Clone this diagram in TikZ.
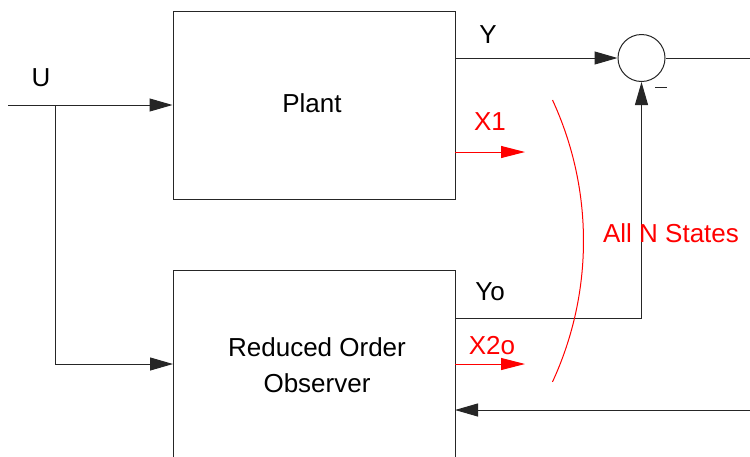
\documentclass[tikz,border=0pt]{standalone}
\usepackage{fontspec}
\setmainfont{Liberation Sans}
\usetikzlibrary{arrows.meta}
\begin{document}
\begin{tikzpicture}[x=1pt,y=-1pt,
  font=\fontsize{26}{36}\selectfont,
  ln/.style={draw=black!85,line width=1pt},
  arr/.style={ln,-{Triangle[length=23pt,width=13pt]}},
  rarr/.style={draw=red,line width=1pt,-{Triangle[length=24pt,width=12pt]}},
  blk/.style={ln,rectangle,minimum width=282pt,inner sep=0pt},
  lbl/.style={inner sep=0pt,anchor=center},
  rlbl/.style={lbl,text=red}]
\clip (0,0) rectangle (750,456);
\fill[white] (0,0) rectangle (750,456);
% blocks
\node[blk,minimum height=188pt] (plant) at (314,105) {};
\node[lbl] (plantt) at (312,103) {Plant};
\node[blk,minimum height=200pt] (obs) at (314,370) {};
\node[lbl,align=center] (obst) at (317,365) {Reduced Order\\Observer};
\node[ln,circle,minimum size=47pt,inner sep=0pt] (sum) at (641.5,58) {};
% coordinates
\coordinate (uin) at (8,105);
\coordinate (ub) at (55,105);
\coordinate (obsin) at (173,364);
\coordinate (yout) at (455,58);
\coordinate (yoout) at (455,318);
\coordinate (x1s) at (455,152);
\coordinate (x1e) at (525,152);
\coordinate (x2s) at (455,364);
\coordinate (x2e) at (525,364);
\coordinate (outend) at (750,58);
\coordinate (fbs) at (750,410);
\coordinate (fbe) at (455,410);
% connectors
\draw[arr] (uin) -- (plant.west);
\draw[arr] (ub) |- (obsin);
\draw[arr] (yout) -- (sum.west);
\draw[arr] (yoout) -| (sum.south);
\draw[ln] (sum.east) -- (outend);
\draw[arr] (fbs) -- (fbe);
\draw[rarr] (x1s) -- (x1e);
\draw[rarr] (x2s) -- (x2e);
% red arc
\draw[red,line width=1pt] (552.5,100) arc[start angle=-24.8,end angle=24.8,radius=336];
% labels
\node[lbl] (lu) at (41,78) {U};
\node[lbl] (ly) at (488,35) {Y};
\node[lbl] (lyo) at (490,292) {Yo};
\node[rlbl] (lx1) at (490,122) {X1};
\node[rlbl] (lx2) at (492,346) {X2o};
\node[rlbl] (lall) at (671,233) {All N States};
\draw[ln] (655,87) -- (667,87);
\end{tikzpicture}
\end{document}
